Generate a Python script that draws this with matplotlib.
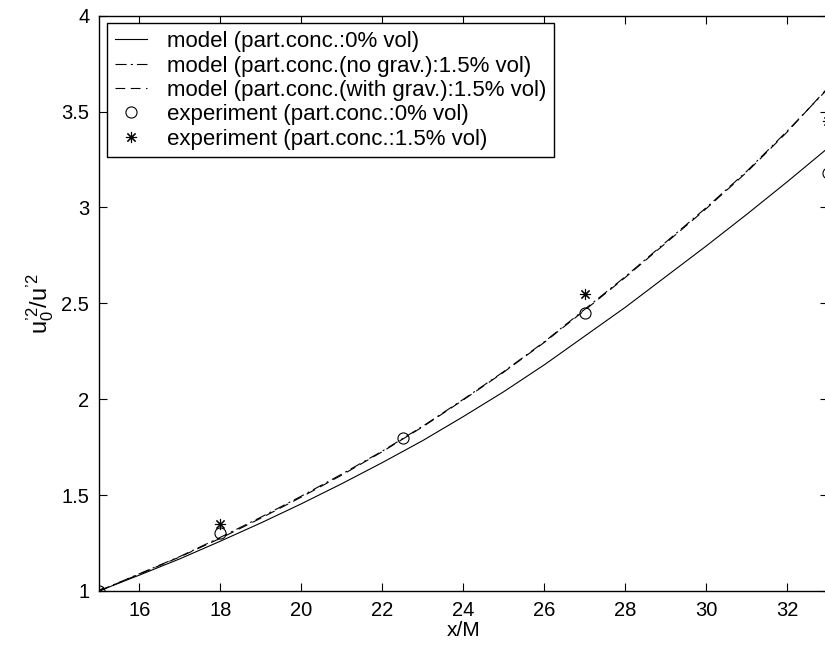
import matplotlib
matplotlib.use('Agg')
from matplotlib import pyplot as plt

plt.rcParams['font.family'] = ['Liberation Sans', 'DejaVu Sans']
plt.rcParams['mathtext.fontset'] = 'custom'
plt.rcParams['mathtext.rm'] = 'Liberation Sans'
plt.rcParams['mathtext.it'] = 'Liberation Sans'
plt.rcParams['lines.scale_dashes'] = False

# model curves
x_model = [15, 16, 17, 18, 19, 20, 21, 22, 23, 24, 25, 26, 27, 28, 29, 30, 31, 32, 33]
model_0 = [1.00, 1.083, 1.168, 1.26, 1.355, 1.455, 1.56, 1.67, 1.785, 1.91, 2.04,
           2.18, 2.33, 2.48, 2.64, 2.80, 2.965, 3.135, 3.31]
model_nograv = [1.00, 1.09, 1.18, 1.28, 1.385, 1.495, 1.61, 1.73, 1.86, 2.00, 2.145,
                2.30, 2.47, 2.64, 2.82, 3.00, 3.19, 3.40, 3.62]
model_grav = [1.00, 1.088, 1.178, 1.275, 1.38, 1.49, 1.605, 1.727, 1.857, 1.997, 2.142,
              2.297, 2.465, 2.636, 2.815, 2.995, 3.185, 3.395, 3.625]

# experiments
x_exp0 = [15, 18, 22.5, 27, 33]
exp_0 = [1.0, 1.30, 1.80, 2.45, 3.18]
x_exp15 = [15, 18, 27, 33]
exp_15 = [1.0, 1.35, 2.55, 3.45]

fig = plt.figure(figsize=(8.25, 6.51), dpi=100)
ax = fig.add_axes([0.12, 0.0922, 0.8836, 0.8837])

ax.plot(x_model, model_0, color='k', lw=0.8, ls='-', label='model (part.conc.:0% vol)')
ax.plot(x_model, model_nograv, color='k', lw=0.8, ls=(0, (8, 3, 1.5, 3)),
        label='model (part.conc.(no grav.):1.5% vol)')
ax.plot(x_model, model_grav, color='k', lw=0.8, ls=(0, (7, 4)),
        label='model (part.conc.(with grav.):1.5% vol)')
ax.plot(x_exp0, exp_0, ls='none', marker='o', mfc='none', mec='k', mew=0.8, ms=8,
        label='experiment (part.conc.:0% vol)')
ax.plot(x_exp15, exp_15, ls='none', marker=(8, 2, 0), mec='k', mew=0.8, ms=8,
        label='experiment (part.conc.:1.5% vol)')

ax.set_xlim(15, 33)
ax.set_ylim(1, 4)
ax.set_xticks([16, 18, 20, 22, 24, 26, 28, 30, 32])
ax.set_yticks([1, 1.5, 2, 2.5, 3, 3.5, 4])
ax.set_yticklabels(['1', '1.5', '2', '2.5', '3', '3.5', '4'])
ax.tick_params(direction='in', length=5.5, width=0.8, labelsize=14.5, top=True, right=True, pad=7)
for s in ax.spines.values():
    s.set_linewidth(1.0)

ax.set_xlabel('x/M', fontsize=15, labelpad=1)
ax.set_ylabel("$\\mathregular{u_0^{\u20192}/u^{\u20192}}$", fontsize=17, labelpad=4)

leg = ax.legend(loc='upper left', fontsize=16, frameon=True, fancybox=False, framealpha=1,
                edgecolor='k', borderaxespad=0.35, labelspacing=0.15, handlelength=1.45,
                handletextpad=0.9, borderpad=0.35)
leg.get_frame().set_linewidth(1.0)

fig.savefig('out.png', dpi=100)
